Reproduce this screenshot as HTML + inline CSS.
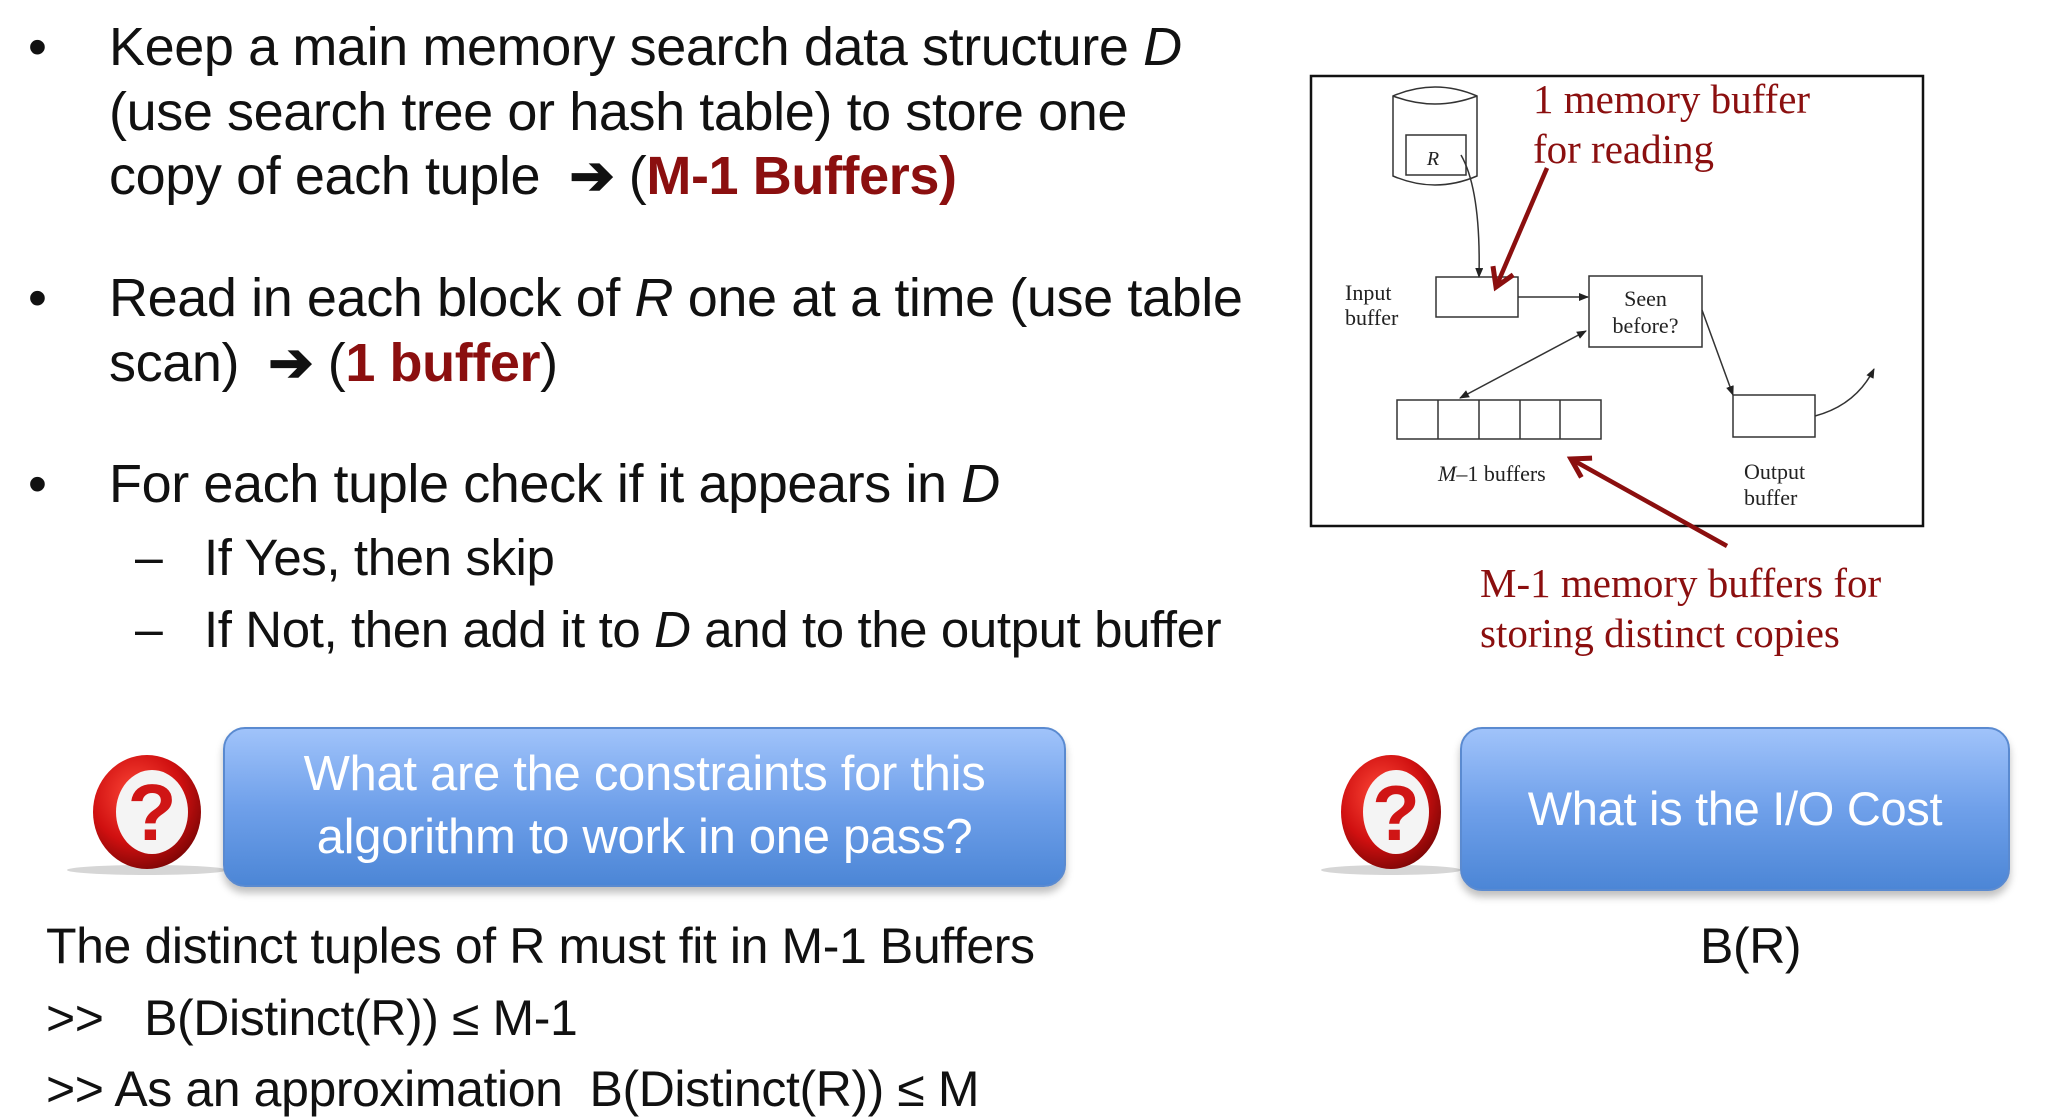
<!DOCTYPE html>
<html><head><meta charset="utf-8">
<style>
body{margin:0;width:2048px;height:1115px;background:#fff;position:relative;overflow:hidden;font-family:"Liberation Sans",sans-serif;}
.t{position:absolute;white-space:nowrap;font-size:54px;line-height:1;color:#111;letter-spacing:-0.4px;}
.r{color:#8b0f0f;font-weight:bold;}
.box{position:absolute;border-radius:22px;border:2px solid #5a8ad0;background:linear-gradient(#a0c3fa,#6fa0ea 50%,#4c86d6);box-shadow:0 6px 8px rgba(0,0,0,0.25);color:#fff;font-size:49px;text-align:center;letter-spacing:-0.3px;}
.serif{font-family:"Liberation Serif",serif;position:absolute;white-space:nowrap;}
</style></head><body>
<div class="t" style="left:28px;top:20px">•</div>
<div class="t" style="left:109px;top:20px">Keep a main memory search data structure <i>D</i></div>
<div class="t" style="left:109px;top:85px">(use search tree or hash table) to store one</div>
<div class="t" style="left:109px;top:149px">copy of each tuple &nbsp;<b>➔</b> (<span class="r">M-1 Buffers)</span></div>
<div class="t" style="left:28px;top:271px">•</div>
<div class="t" style="left:109px;top:271px">Read in each block of <i>R</i> one at a time (use table</div>
<div class="t" style="left:109px;top:336px">scan) &nbsp;<b>➔</b> (<span class="r">1 buffer</span>)</div>
<div class="t" style="left:28px;top:457px">•</div>
<div class="t" style="left:109px;top:457px">For each tuple check if it appears in <i>D</i></div>
<div class="t" style="left:135px;top:532px;font-size:50px">–</div>
<div class="t" style="left:204px;top:532px;font-size:51px">If Yes, then skip</div>
<div class="t" style="left:135px;top:604px;font-size:50px">–</div>
<div class="t" style="left:204px;top:604px;font-size:51px">If Not, then add it to <i>D</i> and to the output buffer</div>

<svg style="position:absolute;left:0;top:0" width="2048" height="1115">
<defs>
<radialGradient id="g" cx="40%" cy="35%" r="70%"><stop offset="0" stop-color="#ff4a3a"/><stop offset="0.6" stop-color="#d01010"/><stop offset="1" stop-color="#7a0505"/></radialGradient>
<marker id="a" markerWidth="10" markerHeight="8" refX="9" refY="4" orient="auto" markerUnits="userSpaceOnUse"><path d="M0,0 L10,4 L0,8 z" fill="#222"/></marker>
<marker id="b" markerWidth="10" markerHeight="8" refX="1" refY="4" orient="auto" markerUnits="userSpaceOnUse"><path d="M10,0 L0,4 L10,8 z" fill="#222"/></marker>
<marker id="rr" markerWidth="26" markerHeight="26" refX="20" refY="13" orient="auto" markerUnits="userSpaceOnUse"><path d="M2,2 L20,13 L2,24" fill="none" stroke="#8b0f0f" stroke-width="5"/></marker>
</defs>
<g>
<ellipse cx="147" cy="870" rx="80" ry="5" fill="#bbb" opacity="0.6"/>
<ellipse cx="147" cy="812" rx="54" ry="57" fill="url(#g)"/>
<ellipse cx="152" cy="812" rx="36" ry="42" fill="#f4f4f4"/>
<text x="152" y="840" font-family="Liberation Sans" font-weight="bold" font-size="80" fill="#d01515" text-anchor="middle">?</text>
</g>
<g>
<ellipse cx="1391" cy="870" rx="70" ry="5" fill="#bbb" opacity="0.6"/>
<ellipse cx="1391" cy="812" rx="50" ry="57" fill="url(#g)"/>
<ellipse cx="1396" cy="812" rx="33" ry="42" fill="#f4f4f4"/>
<text x="1396" y="840" font-family="Liberation Sans" font-weight="bold" font-size="78" fill="#d01515" text-anchor="middle">?</text>
</g>
<g transform="translate(-9,0)">
<rect x="1320" y="76" width="612" height="450" fill="none" stroke="#111" stroke-width="2.5"/>
<path d="M1402,96 Q1444,78 1486,96 L1486,176 Q1444,194 1402,176 Z" fill="none" stroke="#333" stroke-width="1.5"/>
<path d="M1402,96 Q1444,112 1486,96" fill="none" stroke="#333" stroke-width="1.5"/>
<rect x="1415" y="135" width="60" height="40" fill="none" stroke="#333" stroke-width="1.5"/>
<text x="1442" y="165" font-family="Liberation Serif" font-style="italic" font-size="20" fill="#222" text-anchor="middle">R</text>
<path d="M1470,155 Q1490,190 1488,277" fill="none" stroke="#333" stroke-width="1.5" marker-end="url(#a)"/>
<rect x="1445" y="277" width="82" height="40" fill="none" stroke="#333" stroke-width="1.5"/>
<line x1="1527" y1="297" x2="1597" y2="297" stroke="#333" stroke-width="1.5" marker-end="url(#a)"/>
<rect x="1598" y="276" width="113" height="71" fill="none" stroke="#333" stroke-width="1.5"/>
<line x1="1595" y1="331" x2="1469" y2="398" stroke="#333" stroke-width="1.5" marker-end="url(#a)" marker-start="url(#b)"/>
<rect x="1406" y="400" width="204" height="39" fill="none" stroke="#333" stroke-width="1.5"/>
<line x1="1447" y1="400" x2="1447" y2="439" stroke="#333" stroke-width="1.5"/>
<line x1="1488" y1="400" x2="1488" y2="439" stroke="#333" stroke-width="1.5"/>
<line x1="1529" y1="400" x2="1529" y2="439" stroke="#333" stroke-width="1.5"/>
<line x1="1569" y1="400" x2="1569" y2="439" stroke="#333" stroke-width="1.5"/>
<line x1="1711" y1="310" x2="1742" y2="395" stroke="#333" stroke-width="1.5" marker-end="url(#a)"/>
<rect x="1742" y="395" width="82" height="42" fill="none" stroke="#333" stroke-width="1.5"/>
<path d="M1824,416 Q1865,405 1883,369" fill="none" stroke="#333" stroke-width="1.5" marker-end="url(#a)"/>
<line x1="1556" y1="168" x2="1505" y2="287" stroke="#8b0f0f" stroke-width="4.5" marker-end="url(#rr)"/>
<line x1="1736" y1="546" x2="1580" y2="459" stroke="#8b0f0f" stroke-width="4.5" marker-end="url(#rr)"/>
</g>
</svg>
<div class="serif" style="left:1345px;top:280px;font-size:22px;line-height:25px;color:#222">Input<br>buffer</div>
<div class="serif" style="left:1589px;top:285px;width:113px;text-align:center;font-size:22px;line-height:27px;color:#222">Seen<br>before?</div>
<div class="serif" style="left:1438px;top:461px;font-size:22px;color:#222"><i>M</i>–1 buffers</div>
<div class="serif" style="left:1744px;top:459px;font-size:22px;line-height:26px;color:#222">Output<br>buffer</div>
<div class="serif" style="left:1533px;top:74px;font-size:41px;line-height:50px;color:#8b0f0f">1 memory buffer<br>for reading</div>
<div class="serif" style="left:1480px;top:558px;font-size:41px;line-height:50px;color:#8b0f0f">M-1 memory buffers for<br>storing distinct copies</div>

<div class="box" style="left:223px;top:727px;width:843px;height:160px;line-height:63px;padding-top:14px;box-sizing:border-box;">What are the constraints for this<br>algorithm to work in one pass?</div>
<div class="box" style="left:1460px;top:727px;width:546px;height:160px;line-height:160px;font-size:47px;">What is the I/O Cost</div>

<div class="t" style="left:46px;top:921px;font-size:50px">The distinct tuples of R must fit in M-1 Buffers</div>
<div class="t" style="left:46px;top:993px;font-size:50px">&gt;&gt; &nbsp; B(Distinct(R)) ≤ M-1</div>
<div class="t" style="left:46px;top:1064px;font-size:50px">&gt;&gt; As an approximation &nbsp;B(Distinct(R)) ≤ M</div>
<div class="t" style="left:1700px;top:921px;font-size:50px">B(R)</div>
</body></html>
